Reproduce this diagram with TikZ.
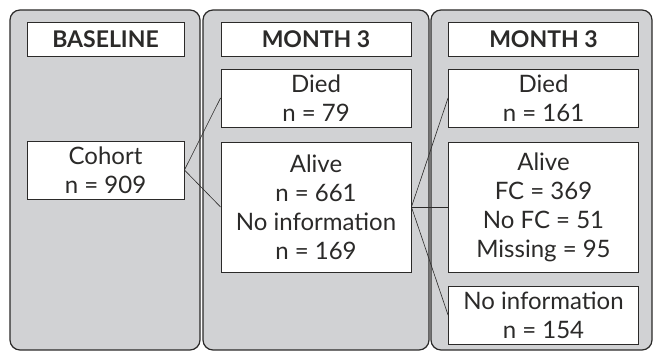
\documentclass[tikz,border=0pt]{standalone}
\usepackage{fontspec}
\setmainfont{Lato}
\definecolor{panelgray}{HTML}{D1D2D4}
\definecolor{edge}{HTML}{2B2A29}
\begin{document}
\begin{tikzpicture}[x=1pt,y=-1pt,
  panel/.style={draw=edge, line width=1.2pt, fill=panelgray, rounded corners=10pt},
  box/.style={draw=edge, line width=0.9pt, fill=white, inner sep=0pt, align=center,
    font=\fontsize{24}{29}\selectfont, text=edge},
  head/.style={box, font=\fontsize{23}{28}\selectfont\bfseries, minimum height=34pt},
  link/.style={draw=edge, line width=0.6pt}]
\useasboundingbox (0,0) rectangle (654,352);
\path[panel] (10,10) rectangle (200,350);
\path[panel] (203,10) rectangle (429,350);
\path[panel] (431,10) rectangle (652,350);
\node[head, minimum width=157pt] (h1) at (105.5,39) {BASELINE};
\node[head, minimum width=190pt] (h2) at (316,39) {MONTH 3};
\node[head, minimum width=190pt] (h3) at (543.5,39) {MONTH 3};
\node[box, minimum width=157pt, minimum height=58pt] (cohort) at (105.5,170) {Cohort\\n = 909};
\node[box, minimum width=190pt, minimum height=58pt] (died2) at (316,98) {Died\\n = 79};
\node[box, minimum width=190pt, minimum height=130pt] (alive2) at (316,207) {Alive\\n = 661\\No information\\n = 169};
\node[box, minimum width=190pt, minimum height=58pt] (died3) at (543.5,98) {Died\\n = 161};
\node[box, minimum width=190pt, minimum height=130pt] (alive3) at (543.5,207) {Alive\\FC = 369\\No FC = 51\\Missing = 95};
\node[box, minimum width=190pt, minimum height=58pt] (noinfo3) at (543.5,315) {No information\\n = 154};
\draw[link] (cohort.east) -- (died2.west);
\draw[link] (cohort.east) -- (alive2.west);
\draw[link] (alive2.east) -- (died3.west);
\draw[link] (alive2.east) -- (alive3.west);
\draw[link] (alive2.east) -- (noinfo3.west);
\end{tikzpicture}
\end{document}
